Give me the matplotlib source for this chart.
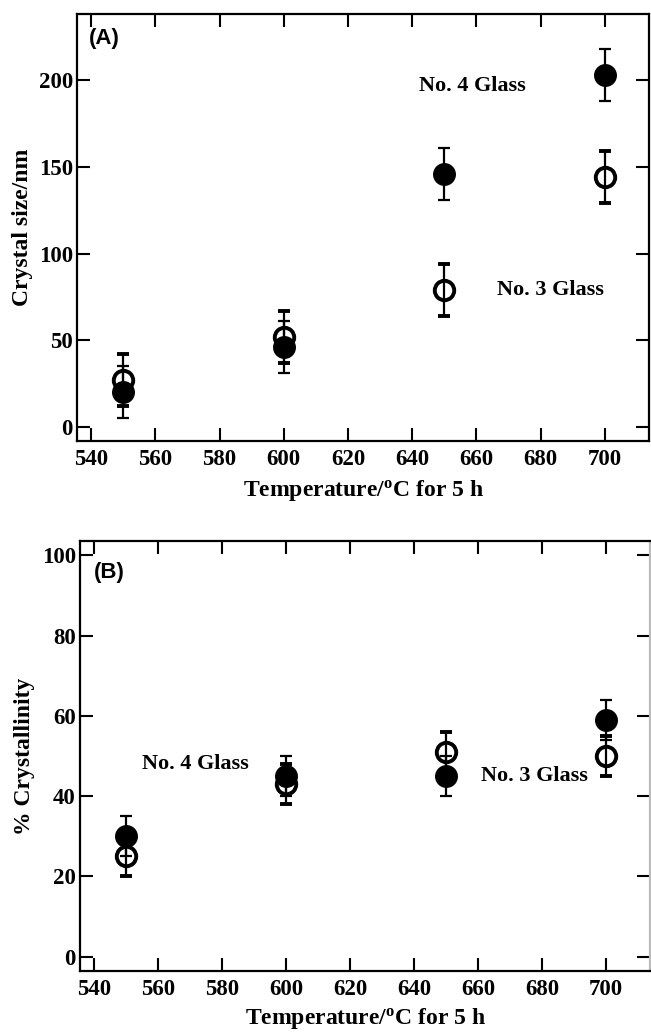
import numpy as np
import matplotlib.pyplot as plt

# data
temps = [550, 600, 650, 700]

size_no4 = [20, 46, 146, 203]
size_no3 = [27, 52, 79, 144]
size_err = [15, 15, 15, 15]

cryst_no4 = [30, 45, 45, 59]
cryst_no3 = [25, 43, 51, 50]
cryst_err = [5, 5, 5, 5]

xticks = [540, 560, 580, 600, 620, 640, 660, 680, 700]

serif = ["Liberation Serif", "DejaVu Serif"]
sans = ["Liberation Sans", "DejaVu Sans"]

plt.rcParams["mathtext.fontset"] = "custom"
plt.rcParams["mathtext.rm"] = "Liberation Serif"
plt.rcParams["mathtext.bf"] = "Liberation Serif:bold"

fig = plt.figure(figsize=(6.51, 10.34), dpi=100)
axA = fig.add_axes([0.1183, 0.5735, 0.8787, 0.413])
axB = fig.add_axes([0.1229, 0.0609, 0.8756, 0.4159])


def plot_pair(ax, filled, opened, err):
    ax.errorbar(temps, filled, yerr=err, fmt="o", ms=15.5, mfc="black", mec="black",
                ecolor="black", elinewidth=1.6, capsize=4.5, capthick=1.6, zorder=3)
    ax.errorbar(temps, opened, yerr=err, fmt="o", ms=14, mfc="none", mec="black",
                mew=2.8, ecolor="black", elinewidth=1.6, capsize=4.5, capthick=1.6,
                zorder=4)


def style(ax, yticks, label_y):
    ax.set_xlim(535.6, 713.8)
    ax.set_xticks(xticks)
    ax.set_yticks(yticks)
    ax.tick_params(direction="in", length=9.5, width=1.5, top=True, right=True)
    ax.tick_params(axis="x", pad=6)
    ax.tick_params(axis="y", pad=3)
    for sp in ax.spines.values():
        sp.set_linewidth(1.6)
    for lab in ax.get_xticklabels() + ax.get_yticklabels():
        lab.set_fontfamily(serif)
        lab.set_fontweight("bold")
        lab.set_fontsize(16.5)
    ax.set_xlabel("Temperature/$\\mathbf{^{o}}$C for 5 h", family=serif,
                  fontweight="bold", fontsize=17, va="top")
    ax.xaxis.set_label_coords(0.5, label_y)


# (A) crystal size
plot_pair(axA, size_no4, size_no3, size_err)
axA.set_ylim(-8, 238)
style(axA, [0, 50, 100, 150, 200], -0.0867)
axA.set_ylabel("Crystal size/nm", family=serif, fontweight="bold", fontsize=17)
axA.yaxis.set_label_coords(-0.077, 0.5)
axA.text(539.4, 223.6, "(A)", family=sans, fontweight="bold", fontsize=16,
         va="center", ha="left")
axA.text(658.8, 196.5, "No. 4 Glass", family=serif, fontweight="bold",
         fontsize=16, ha="center", va="center")
axA.text(683, 79, "No. 3 Glass", family=serif, fontweight="bold",
         fontsize=16, ha="center", va="center")

# (B) crystallinity
plot_pair(axB, cryst_no4, cryst_no3, cryst_err)
axB.set_ylim(-3.6, 103.6)
style(axB, [0, 20, 40, 60, 80, 100], -0.0814)
axB.spines["right"].set_color("#bbbbbb")
axB.set_ylabel("% Crystallinity", family=serif, fontweight="bold", fontsize=17)
axB.yaxis.set_label_coords(-0.079, 0.5)
axB.text(540, 95.8, "(B)", family=sans, fontweight="bold", fontsize=16,
         va="center", ha="left")
axB.text(571.7, 47.9, "No. 4 Glass", family=serif, fontweight="bold",
         fontsize=16, ha="center", va="center")
axB.text(677.7, 45, "No. 3 Glass", family=serif, fontweight="bold",
         fontsize=16, ha="center", va="center")

fig.savefig("out.png", dpi=100)
